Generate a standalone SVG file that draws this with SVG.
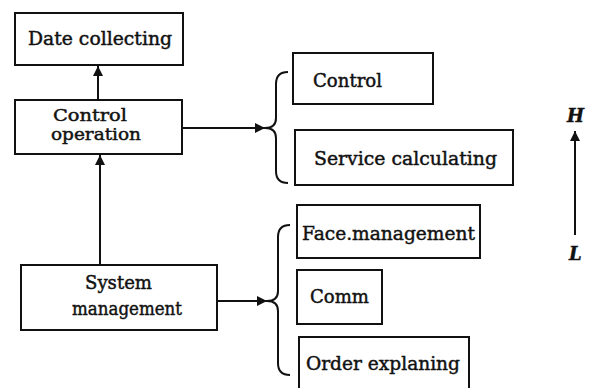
<svg xmlns="http://www.w3.org/2000/svg" width="591" height="388" viewBox="0 0 591 388">
<style>
.box{fill:#fff;stroke:#111;stroke-width:2}
.ln{fill:none;stroke:#111;stroke-width:2}
text{stroke:#111;stroke-width:0.45}
</style>
<defs>
<marker id="ah" viewBox="0 0 10 10" refX="10" refY="5" markerWidth="5" markerHeight="5" orient="auto" markerUnits="strokeWidth">
<path d="M0,0 L10,5 L0,10 z" fill="#111"/>
</marker>
</defs>
<rect width="591" height="388" fill="#fff"/>
<g id="connectors">
<line class="ln" x1="98" y1="100" x2="98" y2="66" marker-end="url(#ah)"/>
<line class="ln" x1="100" y1="265" x2="100" y2="155" marker-end="url(#ah)"/>
<line class="ln" x1="182" y1="128" x2="265" y2="128" marker-end="url(#ah)"/>
<line class="ln" x1="217" y1="301" x2="267" y2="301" marker-end="url(#ah)"/>
<path class="ln" d="M288,72 Q276,72 276,84 L276,118 Q276,128 265,128 Q276,128 276,138 L276,171 Q276,183 288,183"/>
<path class="ln" d="M290,225 Q278,225 278,237 L278,291 Q278,301 267,301 Q278,301 278,311 L278,363 Q278,375 290,375"/>
</g>
<g font-family="DejaVu Serif, serif" font-size="18" fill="#111">
<g id="n-date">
<rect class="box" x="15" y="13" width="168" height="52"/>
<text x="28" y="45" textLength="144" lengthAdjust="spacingAndGlyphs">Date collecting</text>
</g>
<g id="n-control-op">
<rect class="box" x="15" y="100" width="167" height="54"/>
<text x="53" y="121" font-size="16" textLength="74" lengthAdjust="spacingAndGlyphs">Control</text>
<text x="51" y="140" font-size="16" textLength="90" lengthAdjust="spacingAndGlyphs">operation</text>
</g>
<g id="n-system">
<rect class="box" x="21" y="265" width="196" height="65"/>
<text x="85" y="289" textLength="67" lengthAdjust="spacingAndGlyphs">System</text>
<text x="72" y="315" textLength="110" lengthAdjust="spacingAndGlyphs">management</text>
</g>
<g id="n-control">
<rect class="box" x="293" y="53" width="140" height="51"/>
<text x="313" y="87" textLength="69" lengthAdjust="spacingAndGlyphs">Control</text>
</g>
<g id="n-service">
<rect class="box" x="295" y="130" width="218" height="55"/>
<text x="314" y="165" textLength="183" lengthAdjust="spacingAndGlyphs">Service calculating</text>
</g>
<g id="n-face">
<rect class="box" x="297" y="205" width="183" height="53"/>
<text x="302" y="240" textLength="173" lengthAdjust="spacingAndGlyphs">Face.management</text>
</g>
<g id="n-comm">
<rect class="box" x="297" y="270" width="85" height="54"/>
<text x="310" y="303" textLength="59" lengthAdjust="spacingAndGlyphs">Comm</text>
</g>
<g id="n-order">
<rect class="box" x="299" y="337" width="170" height="60"/>
<text x="306" y="370" textLength="154" lengthAdjust="spacingAndGlyphs">Order explaning</text>
</g>
<g id="n-scale" font-style="italic" font-weight="bold">
<text x="567" y="122">H</text>
<line class="ln" x1="575" y1="235" x2="575" y2="131" marker-end="url(#ah)"/>
<text x="569" y="260">L</text>
</g>
</g>
</svg>
